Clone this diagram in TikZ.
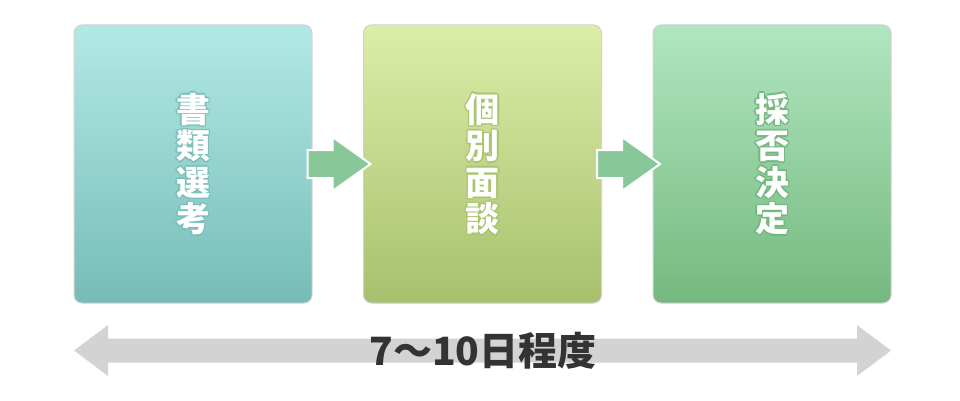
\documentclass[tikz,border=0pt]{standalone}
\usepackage{fontspec}
\usepackage{xcolor}
\newfontfamily\jp{Noto Sans CJK JP}
\definecolor{tealtop}{HTML}{B2E9E5}
\definecolor{tealbot}{HTML}{77BCB8}
\definecolor{tealline}{HTML}{7CC0BB}
\definecolor{limetop}{HTML}{DCEDA8}
\definecolor{limebot}{HTML}{A8C06E}
\definecolor{limeline}{HTML}{A9C46F}
\definecolor{minttop}{HTML}{B1E6BF}
\definecolor{mintbot}{HTML}{74B97F}
\definecolor{mintline}{HTML}{74B880}
\definecolor{arrowgreen}{HTML}{88C898}
\definecolor{spangray}{HTML}{D3D3D3}
\definecolor{spantext}{HTML}{333333}

\begin{document}
\begin{tikzpicture}[x=1pt,y=-1pt]
    \tikzstyle{every node}=[inner sep=0pt]
    \tikzstyle{step box}=[draw=black!18,line width=1pt,rounded corners=8pt,minimum width=238pt,minimum height=278pt]
    \tikzstyle{step text}=[align=center,font=\jp\bfseries\fontsize{34}{36.5}\selectfont]
    \tikzstyle{flow arrow}=[fill=arrowgreen,draw=white,line width=2pt,line join=miter]
    \useasboundingbox (0,0) rectangle (960,401);
    % the three steps
    \node[step box,top color=tealtop,bottom color=tealbot] (s1) at (193,164) {};
    \node[step box,top color=limetop,bottom color=limebot] (s2) at (482.5,164) {};
    \node[step box,top color=minttop,bottom color=mintbot] (s3) at (772,164) {};
    % labels, outline first then white
    \foreach \dx/\dy in {-1.5/0,1.5/0,0/-1.5,0/1.5,-1/-1,1/1,-1/1,1/-1} {
        \node[step text,text=tealline] at ([shift={(\dx,\dy)}]s1) {書\\類\\選\\考};
        \node[step text,text=limeline] at ([shift={(\dx,\dy)}]s2) {個\\別\\面\\談};
        \node[step text,text=mintline] at ([shift={(\dx,\dy)}]s3) {採\\否\\決\\定};
    }
    \node[step text,text=white] (t1) at (s1) {書\\類\\選\\考};
    \node[step text,text=white] (t2) at (s2) {個\\別\\面\\談};
    \node[step text,text=white] (t3) at (s3) {採\\否\\決\\定};
    % arrows between the steps
    \draw[flow arrow] ([shift={(-5,-14)}]s1.east) -- ++(25,0) -- ++(0,-13) -- ++(38,27) -- ++(-38,27) -- ++(0,-13) -- ++(-25,0) -- cycle;
    \draw[flow arrow] ([shift={(-5,-14)}]s2.east) -- ++(25,0) -- ++(0,-13) -- ++(38,27) -- ++(-38,27) -- ++(0,-13) -- ++(-25,0) -- cycle;
    % span of the whole process
    \coordinate (from) at (74,350.5);
    \coordinate (to) at (891,350.5);
    \fill[spangray] (from) -- ++(34,-25.5) -- ++(0,13.5) -- ([shift={(-34,-12)}]to) -- ++(0,-13.5) -- (to) -- ++(-34,25.5) -- ++(0,-13.5) -- ([shift={(34,12)}]from) -- ++(0,13.5) -- cycle;
    \node[text=spantext,font=\jp\bfseries\fontsize{39}{40}\selectfont] (span) at (483,351) {7〜10日程度};
\end{tikzpicture}
\end{document}
